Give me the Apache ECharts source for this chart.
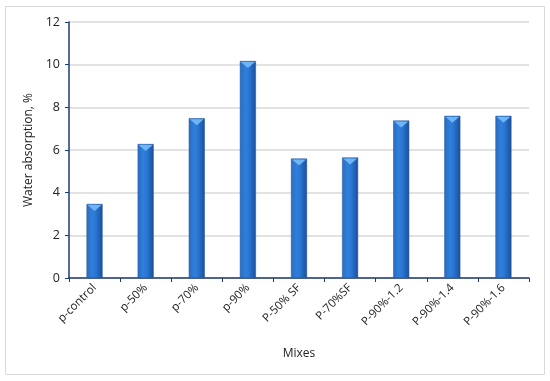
<!DOCTYPE html>
<html><head><meta charset="utf-8">
<script src="https://cdn.jsdelivr.net/npm/echarts@6/dist/echarts.min.js"></script>
<style>html,body{margin:0;padding:0;background:#fff}#c{width:550px;height:381px}</style>
</head><body><div id="c"></div>
<script>
const categories = ['p-control','p-50%','p-70%','p-90%','P-50% SF','P-70%SF','P-90%-1.2','P-90%-1.4','P-90%-1.6'];
const values = [3.47, 6.28, 7.49, 10.17, 5.6, 5.65, 7.38, 7.6, 7.6];
const yTicks = [0, 2, 4, 6, 8, 10, 12];
const yTitle = 'Water absorption, %';
const xTitle = 'Mixes';

const chart = echarts.init(document.getElementById('c'));
const font = '"Open Sans", Lato, sans-serif';
chart.setOption({
  animation: false,
  graphic: [{type:'rect', shape:{x:5.5,y:6.5,width:539,height:368}, style:{fill:'none', stroke:'#d9d9d9', lineWidth:1}, z:-1}],
  grid: {left: 69, right: 21, top: 22, bottom: 103},
  xAxis: {
    type: 'category', data: categories,
    name: xTitle, nameLocation: 'middle', nameGap: 70,
    nameTextStyle: {fontFamily: font, fontSize: 12, color: '#222'},
    axisLine: {lineStyle: {color: '#1f3a78', width: 1.5}},
    axisTick: {show: true, length: 4, lineStyle: {color: '#1f3a78'}},
    axisLabel: {rotate: 45, fontFamily: font, fontSize: 11.5, color: '#222', margin: 8, interval: 0}
  },
  yAxis: {
    type: 'value', min: yTicks[0], max: yTicks[yTicks.length-1], interval: 2,
    name: yTitle, nameLocation: 'middle', nameGap: 33,
    nameTextStyle: {fontFamily: font, fontSize: 12, color: '#222'},
    axisLine: {show: true, lineStyle: {color: '#1f3a78', width: 1.5}},
    axisTick: {show: true, length: 4, inside: false, lineStyle: {color: '#1f3a78'}},
    axisLabel: {fontFamily: font, fontSize: 12.5, color: '#222', margin: 9},
    splitLine: {lineStyle: {color: '#d9d9d9', width: 1.5}}
  },
  series: [{
    type: 'bar', data: values, barWidth: 16,
    itemStyle: {
      color: new echarts.graphic.LinearGradient(0,0,1,0,[
        {offset:0, color:'#2a6cc0'},{offset:0.35, color:'#2f7fdc'},{offset:0.55, color:'#2a78d4'},{offset:1, color:'#1b4f9a'}
      ]),
      borderColor: '#1d5299', borderWidth: 0.5
    }
  },{
    type: 'pictorialBar', data: values, symbol: 'triangle', symbolRotate: 180,
    symbolSize: [14, 6], symbolPosition: 'end', symbolOffset: [0, 1],
    itemStyle: {color: '#6fb4f5'}, z: 3
  }]
});
</script></body></html>
